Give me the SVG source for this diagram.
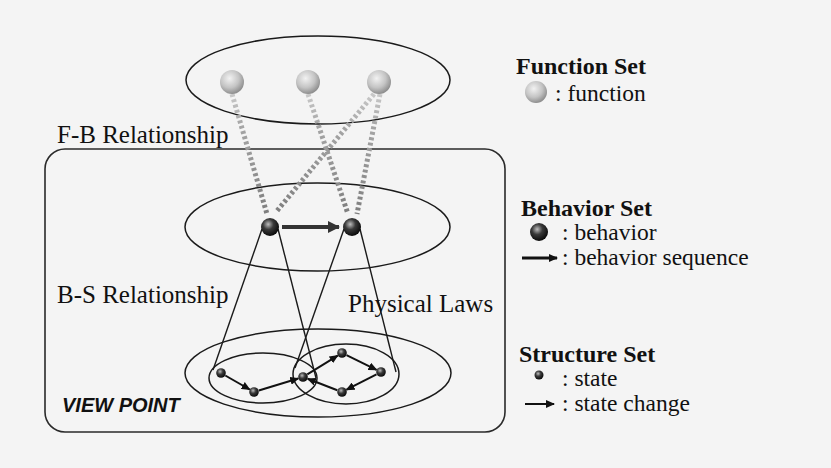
<svg xmlns="http://www.w3.org/2000/svg" width="831" height="468" viewBox="0 0 831 468">
<defs>
<style>
.lbl{font-family:"Liberation Serif","Times New Roman",serif;font-size:25px;fill:#111}
.leg{font-family:"Liberation Serif","Times New Roman",serif;font-size:23.5px;fill:#111}
.ttl{font-family:"Liberation Serif","Times New Roman",serif;font-size:24px;font-weight:bold;fill:#111}
.vp{font-family:"Liberation Sans",Arial,sans-serif;font-size:20px;font-weight:bold;font-style:italic;fill:#111}
.ell{fill:none;stroke:#1a1a1a;stroke-width:1.5}
.cone{stroke:#1a1a1a;stroke-width:1.4;fill:none}
.dash{stroke:url(#dg);stroke-width:5;stroke-dasharray:3 2.5;fill:none}
.sarrow{stroke:#111;stroke-width:2;fill:none;marker-end:url(#sh)}
</style>
<radialGradient id="gf" cx="0.4" cy="0.35" r="0.65">
<stop offset="0" stop-color="#f2f2f2"/>
<stop offset="0.6" stop-color="#c4c4c4"/>
<stop offset="1" stop-color="#8f8f8f"/>
</radialGradient>
<radialGradient id="gb" cx="0.4" cy="0.35" r="0.65">
<stop offset="0" stop-color="#bdbdbd"/>
<stop offset="0.45" stop-color="#3a3a3a"/>
<stop offset="1" stop-color="#0a0a0a"/>
</radialGradient>
<linearGradient id="dg" gradientUnits="userSpaceOnUse" x1="0" y1="95" x2="0" y2="215">
<stop offset="0" stop-color="#c8c8c8"/>
<stop offset="0.25" stop-color="#a6a6a6"/>
<stop offset="1" stop-color="#7e7e7e"/>
</linearGradient>
<marker id="bh" markerUnits="userSpaceOnUse" markerWidth="12" markerHeight="12" refX="11" refY="6" orient="auto">
<path d="M0,0 L12,6 L0,12 z" fill="#333"/>
</marker>
<marker id="sh" markerUnits="userSpaceOnUse" markerWidth="9" markerHeight="8" refX="8" refY="4" orient="auto">
<path d="M0,0 L9,4 L0,8 z" fill="#111"/>
</marker>
</defs>
<rect width="831" height="468" fill="#f4f4f4"/>

<g id="viewpoint">
<rect x="45" y="149" width="460" height="283" rx="20" fill="none" stroke="#2a2a2a" stroke-width="1.6"/>
<text class="vp" x="62" y="412">VIEW POINT</text>
</g>

<g id="function-set">
<ellipse class="ell" cx="318" cy="80" rx="132" ry="44"/>
</g>
<g id="behavior-set">
<ellipse class="ell" cx="317.5" cy="227" rx="132.5" ry="44"/>
</g>
<g id="structure-set">
<ellipse class="ell" cx="318" cy="373" rx="133" ry="44"/>
<ellipse class="ell" cx="263" cy="378" rx="54" ry="25"/>
<ellipse class="ell" cx="346" cy="374" rx="53" ry="30"/>
</g>

<g id="connectors">
<line class="dash" x1="232" y1="94" x2="267" y2="214"/>
<line class="dash" x1="308" y1="94" x2="348" y2="214"/>
<line class="dash" x1="374" y1="94" x2="276" y2="212"/>
<line class="dash" x1="380" y1="94" x2="357" y2="214"/>
<line class="cone" x1="262" y1="229" x2="213" y2="370"/>
<line class="cone" x1="278" y1="229" x2="316" y2="378"/>
<line class="cone" x1="344" y1="229" x2="295" y2="368"/>
<line class="cone" x1="360" y1="229" x2="396" y2="372"/>
<line x1="282" y1="227" x2="339" y2="227" stroke="#333" stroke-width="4" marker-end="url(#bh)"/>
<line class="sarrow" x1="225.3" y1="375.5" x2="249.7" y2="389.5"/>
<line class="sarrow" x1="258.8" y1="390.5" x2="298.2" y2="378.5"/>
<line class="sarrow" x1="307.3" y1="374.4" x2="337.7" y2="355.6"/>
<line class="sarrow" x1="346.5" y1="355.2" x2="376.5" y2="369.8"/>
<line class="sarrow" x1="376.5" y1="374.3" x2="346.5" y2="389.7"/>
<line class="sarrow" x1="337.3" y1="390.2" x2="307.7" y2="378.8"/>
</g>

<g id="functions">
<circle cx="232" cy="82" r="12" fill="url(#gf)"/>
<circle cx="308" cy="82" r="12" fill="url(#gf)"/>
<circle cx="379" cy="82" r="12" fill="url(#gf)"/>
</g>
<g id="behaviors">
<circle cx="270" cy="227" r="9" fill="url(#gb)"/>
<circle cx="352" cy="227" r="9" fill="url(#gb)"/>
</g>
<g id="states">
<circle cx="221" cy="373" r="4.8" fill="url(#gb)"/>
<circle cx="254" cy="392" r="4.8" fill="url(#gb)"/>
<circle cx="303" cy="377" r="4.8" fill="url(#gb)"/>
<circle cx="342" cy="353" r="4.8" fill="url(#gb)"/>
<circle cx="381" cy="372" r="4.8" fill="url(#gb)"/>
<circle cx="342" cy="392" r="4.8" fill="url(#gb)"/>
</g>

<g id="labels">
<text class="lbl" x="57" y="143">F-B Relationship</text>
<text class="lbl" x="57" y="303">B-S Relationship</text>
<text class="lbl" x="348" y="312">Physical Laws</text>
</g>

<g id="legend">
<text class="ttl" x="516" y="74">Function Set</text>
<circle cx="536" cy="92" r="11" fill="url(#gf)"/>
<text class="leg" x="555" y="101">: function</text>
<text class="ttl" x="521" y="216">Behavior Set</text>
<circle cx="539" cy="232" r="9" fill="url(#gb)"/>
<text class="leg" x="562" y="240">: behavior</text>
<line x1="522" y1="258" x2="557" y2="258" stroke="#111" stroke-width="3" marker-end="url(#sh)"/>
<text class="leg" x="562" y="265">: behavior sequence</text>
<text class="ttl" x="519" y="362">Structure Set</text>
<circle cx="539" cy="375" r="4.5" fill="url(#gb)"/>
<text class="leg" x="562" y="386">: state</text>
<line x1="525" y1="404" x2="554" y2="404" stroke="#111" stroke-width="2" marker-end="url(#sh)"/>
<text class="leg" x="562" y="411">: state change</text>
</g>
</svg>
